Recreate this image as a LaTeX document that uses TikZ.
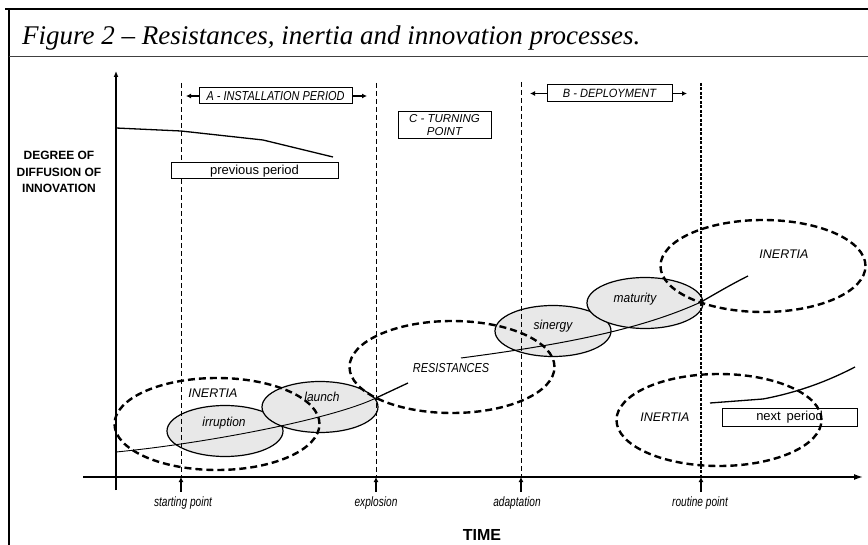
\documentclass[tikz,border=0pt]{standalone}
\usepackage{fontspec}
\setmainfont{Liberation Serif}
\setsansfont{Liberation Sans}
\newfontfamily\milefont[FakeStretch=0.75]{Liberation Sans}
\newfontfamily\tightfont[FakeStretch=0.84]{Liberation Sans}
\newfontfamily\blobfont[FakeStretch=0.92]{Liberation Sans}
\usetikzlibrary{shapes.geometric,arrows.meta}

\tikzset{
  phasebox/.style={draw, fill=white, line width=1pt, inner sep=0pt, align=center,
    font=\blobfont\itshape\fontsize{12}{13}\selectfont},
  periodbox/.style={draw, fill=white, line width=1pt, inner sep=0pt,
    font=\sffamily\fontsize{13}{14}\selectfont},
  stageblob/.style={ellipse, draw, fill=gray!18, line width=1.2pt, inner sep=0pt,
    minimum width=116pt, minimum height=51pt},
  forceblob/.style={ellipse, draw, line width=2.4pt, dash pattern=on 7pt off 4pt,
    inner sep=0pt, minimum width=205pt, minimum height=92pt},
  blobtext/.style={font=\blobfont\itshape\fontsize{13}{14}\selectfont, inner sep=0pt},
  forcetext/.style={font=\sffamily\itshape\fontsize{12.5}{13}\selectfont, inner sep=0pt},
  milestone/.style={font=\milefont\itshape\fontsize{13.5}{14}\selectfont, inner sep=0pt},
  phasetip/.style={-{Latex[length=5pt,width=5pt]}, line width=1.2pt},
  periodline/.style={line width=1pt, dash pattern=on 5pt off 3pt},
}

\begin{document}
\begin{tikzpicture}[x=1pt,y=-1pt]
\useasboundingbox (0,0) rectangle (868,545);

%Frame
\draw [line width=1.2pt] (5,9) -- (868,9);
\draw [line width=1.2pt] (9,9) -- (9,545);
\draw [line width=1pt, color=black!75] (9,57) -- (868,57);
% Text Node
\node (title) [anchor=base west, inner sep=0pt, font=\itshape\fontsize{27}{30}\selectfont] at (22,45) {Figure 2 -- Resistances, inertia and innovation processes.};

%Shapes: grey stages
\node (irruption) [stageblob] at (225,431) {};
\node (launch) [stageblob] at (320,407) {};
\node (sinergy) [stageblob] at (553,331) {};
\node (maturity) [stageblob] at (645,303) {};

%Axes
\coordinate (yaxis foot) at (116,490);
\coordinate (yaxis tip) at (116,71);
\coordinate (xaxis foot) at (83,477);
\coordinate (xaxis tip) at (863,477);
\draw [line width=2pt, -{Latex[length=6pt,width=5pt]}] (yaxis foot) -- (yaxis tip);
\draw [line width=1.5pt, -{Latex[length=9pt,width=6pt]}] (xaxis foot) -- (xaxis tip);

%Dashed period lines
\coordinate (sp top) at (181,83);
\coordinate (sp axis) at (181,477);
\coordinate (ex top) at (376,83);
\coordinate (ex axis) at (376,477);
\coordinate (ad top) at (521,82);
\coordinate (ad axis) at (521,477);
\coordinate (rp top) at (701,83);
\coordinate (rp axis) at (701,477);
\draw [periodline] (sp top) -- (sp axis);
\draw [periodline] (ex top) -- (ex axis);
\draw [periodline] (ad top) -- (ad axis);
\draw [line width=2.4pt, dash pattern=on 3pt off 1.5pt] (rp top) -- (rp axis);

%Milestone ticks
\coordinate (sp foot) at (181,492);
\coordinate (ex foot) at (376,492);
\coordinate (ad foot) at (521,492);
\coordinate (rp foot) at (701,492);
\draw [phasetip] (sp foot) -- (sp axis);
\draw [phasetip] (ex foot) -- (ex axis);
\draw [phasetip] (ad foot) -- (ad axis);
\draw [phasetip] (rp foot) -- (rp axis);

% Text Node
\node (starting) [milestone] at (183,503) {starting point};
% Text Node
\node (explosion) [milestone] at (376,503) {explosion};
% Text Node
\node (adaptation) [milestone] at (517,503) {adaptation};
% Text Node
\node (routine) [milestone] at (700,503) {routine point};
% Text Node
\node (time) [inner sep=0pt, font=\sffamily\bfseries\fontsize{16}{17}\selectfont] at (482,535) {TIME};
% Text Node
\node (degree) [inner sep=0pt, align=center, font=\sffamily\bfseries\fontsize{12}{16.5}\selectfont] at (59,172) {DEGREE OF\\DIFFUSION OF\\INNOVATION};

%Curves: previous period, innovation, next period
\draw [line width=1.3pt] (116,128) -- (181,131) -- (263,140) -- (333,157);
\draw [line width=0.9pt] (116,452) .. controls (200,444) and (330,420) .. (376,398);
\draw [line width=1.3pt] (376,398) -- (408,383);
\draw [line width=1pt] (461,358) .. controls (560,345) and (640,330) .. (701,302);
\draw [line width=1.3pt] (701,302) .. controls (715,294) and (730,285) .. (748,276);
\draw [line width=1.3pt] (710,403) -- (763,399) .. controls (800,392) and (830,380) .. (855,367);

%Shapes: dashed inertia and resistance
\node (inertia left) [forceblob] at (217,424) {};
\node (resistances) [forceblob] at (452,367) {};
\node (inertia top) [forceblob] at (763,266) {};
\node (inertia low) [forceblob] at (719,420) {};

% Text Node
\node (irruption text) [blobtext] at (224,423) {irruption};
\node (launch text) [blobtext] at (322,397) {launch};
\node (sinergy text) [blobtext] at (553,326) {sinergy};
\node (maturity text) [blobtext] at (635,299) {maturity};
\node (inertia left text) [forcetext] at (213,393) {INERTIA};
\node (resistances text) [forcetext, font=\tightfont\itshape\fontsize{13}{14}\selectfont] at (451,368) {RESISTANCES};
\node (inertia top text) [forcetext] at (784,254) {INERTIA};
\node (inertia low text) [forcetext] at (665,417) {INERTIA};

%Phase boxes
\node (installation) [phasebox, font=\tightfont\itshape\fontsize{13}{14}\selectfont, minimum width=153pt, minimum height=16pt] at (275.5,96) {A - INSTALLATION PERIOD};
\node (deployment) [phasebox, minimum width=125pt, minimum height=17pt] at (609.5,93.5) {B - DEPLOYMENT};
\node (turning) [phasebox, font=\sffamily\itshape\fontsize{11.5}{13}\selectfont, minimum width=93pt, minimum height=27pt] at (444.5,125.5) {C - TURNING\\POINT};
\coordinate (installation left) at (186,96);
\coordinate (installation right) at (367,96);
\coordinate (deployment left) at (530,93.5);
\coordinate (deployment right) at (687,93.5);
\draw [phasetip] (installation.west) -- (installation left);
\draw [phasetip] (installation.east) -- (installation right);
\draw [phasetip] (deployment.west) -- (deployment left);
\draw [phasetip] (deployment.east) -- (deployment right);

%Period boxes
\node (previous) [periodbox, minimum width=167pt, minimum height=16pt] at (254.5,171) {previous period};
\node (next) [periodbox, fill=none, minimum width=135pt, minimum height=17pt] at (789.5,417.5) {next\, period};

\end{tikzpicture}
\end{document}
